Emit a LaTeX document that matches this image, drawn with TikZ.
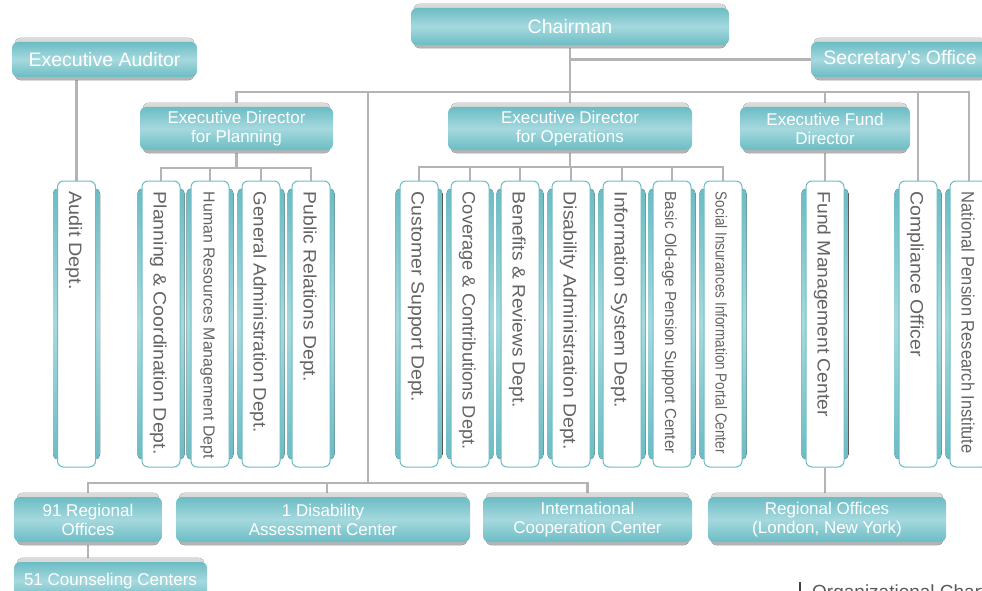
\documentclass[tikz,border=0pt]{standalone}
\usepackage{fontspec}
\usepackage{graphicx}
\setmainfont{Liberation Sans}
\usetikzlibrary{backgrounds}

\definecolor{tealD}{RGB}{108,188,196}
\definecolor{tealL}{RGB}{165,217,222}
\definecolor{linegray}{RGB}{180,180,180}
\definecolor{txtgray}{RGB}{100,100,100}

% stretch or squeeze a text horizontally to a given length (in pt)
\newlength\fitlen
\newcommand\fitw[2]{\settowidth\fitlen{#2}%
  \edef\fitfac{\fpeval{(#1)/(\the\fitlen)}}%
  \scalebox{\fitfac}[1]{#2}}

% grey plate behind a teal header box
\newcommand\boxshadow[1]{%
  \fill[rounded corners=6pt, top color=black!14, bottom color=black!30]
    ([xshift=3pt,yshift=4pt]#1.north west) rectangle ([xshift=-3pt,yshift=-3pt]#1.south east);}
% teal side ribbon behind a department column
\newcommand\boxband[1]{%
  \fill[rounded corners=5pt, top color=tealD, bottom color=tealD, middle color=tealL]
    ([xshift=-4pt,yshift=-8pt]#1.north west) rectangle ([xshift=4pt,yshift=8pt]#1.south east);}

\tikzset{
  hdr/.style={rounded corners=6pt, top color=tealD, bottom color=tealD, middle color=tealL,
    text=white, align=center, inner sep=0pt, font=\fontsize{17}{19}\selectfont},
  bighdr/.style={hdr, font=\fontsize{19.5}{21}\selectfont},
  vbox/.style={draw=tealD, line width=1pt, fill=white, rounded corners=6pt,
    minimum width=38pt, minimum height=286pt, inner sep=0pt},
  vtxt/.style={rotate=-90, anchor=base west, inner sep=0pt, text=txtgray,
    font=\fontsize{18}{18}\selectfont},
  ctxt/.style={vtxt, font=\fontsize{16}{16}\selectfont},
  conn/.style={draw=linegray, line width=2.2pt},
}

\begin{document}
\begin{tikzpicture}[x=1pt,y=-1pt]
\useasboundingbox (0,0) rectangle (982,591);
\clip (0,0) rectangle (982,591);

% executive level
\node[bighdr, minimum width=318pt, minimum height=37pt] (chair) at (570,26.5) {Chairman};
\node[bighdr, minimum width=185pt, minimum height=35pt] (aud) at (104.5,59.5) {Executive Auditor};
\node[bighdr, minimum width=178pt, minimum height=35pt] (sec) at (900,59.5) {Secretary’s Office};
\node[hdr, minimum width=193pt, minimum height=43pt] (plan) at (236.5,128.5) {Executive Director\\for Planning};
\node[hdr, minimum width=244pt, minimum height=43pt] (ops) at (570,128.5) {Executive Director\\for Operations};
\node[hdr, minimum width=170pt, minimum height=43pt] (fund) at (825,128.5) {Executive Fund\\Director};

% department columns
\foreach \n/\x in {audit/76.5, pc/161, hr/210, ga/261, pr/311, cs/419, cov/470, ben/520,
    dad/571, info/622, bop/672, sip/723, fmc/825, comp/918, npri/969}
  \node[vbox] (\n) at (\x,324) {};

\node[vtxt] (auditT) at ([xshift=-7.5pt,yshift=-11pt]audit.north) {\fitw{98}{Audit Dept.}};
\node[vtxt] (pcT) at ([xshift=-7.5pt,yshift=-11pt]pc.north) {\fitw{263}{Planning \& Coordination Dept.}};
\node[ctxt] (hrT) at ([xshift=-6.5pt,yshift=-11pt]hr.north) {\fitw{267}{Human Resources Management Dept}};
\node[vtxt] (gaT) at ([xshift=-7.5pt,yshift=-11pt]ga.north) {\fitw{241}{General Administration Dept.}};
\node[vtxt] (prT) at ([xshift=-7.5pt,yshift=-11pt]pr.north) {\fitw{190}{Public Relations Dept.}};
\node[vtxt] (csT) at ([xshift=-7.5pt,yshift=-11pt]cs.north) {\fitw{210}{Customer Support Dept.}};
\node[vtxt] (covT) at ([xshift=-7.5pt,yshift=-11pt]cov.north) {\fitw{258}{Coverage \& Contributions Dept.}};
\node[vtxt] (benT) at ([xshift=-7.5pt,yshift=-11pt]ben.north) {\fitw{216}{Benefits \& Reviews Dept.}};
\node[vtxt] (dadT) at ([xshift=-7.5pt,yshift=-11pt]dad.north) {\fitw{258}{Disability Administration Dept.}};
\node[vtxt] (infoT) at ([xshift=-7.5pt,yshift=-11pt]info.north) {\fitw{216}{Information System Dept.}};
\node[ctxt] (bopT) at ([xshift=-7pt,yshift=-11pt]bop.north) {\fitw{262}{Basic Old-age Pension Support Center}};
\node[ctxt] (sipT) at ([xshift=-7.5pt,yshift=-11pt]sip.north) {\fitw{262}{Social Insurances Information Portal Center}};
\node[vtxt] (fmcT) at ([xshift=-7.5pt,yshift=-11pt]fmc.north) {\fitw{225}{Fund Management Center}};
\node[vtxt] (compT) at ([xshift=-7.5pt,yshift=-11pt]comp.north) {\fitw{165}{Compliance Officer}};
\node[vtxt] (npriT) at ([xshift=-7.5pt,yshift=-11pt]npri.north) {\fitw{262}{National Pension Research Institute}};

% field organisation
\node[hdr, minimum width=148pt, minimum height=45pt] (reg) at (88,519.5) {91 Regional\\Offices};
\node[hdr, minimum width=294pt, minimum height=45pt] (dac) at (323,519.5) {1 Disability\\Assessment Center};
\node[hdr, minimum width=209pt, minimum height=45pt] (icc) at (587.5,519.5) {International\\Cooperation Center};
\node[hdr, minimum width=238pt, minimum height=45pt] (lon) at (827,519.5) {Regional Offices\\(London, New York)};
\node[hdr, minimum width=193pt, minimum height=38pt] (cns) at (110.5,581) {51 Counseling Centers};

% caption
\node[anchor=base west, inner sep=0pt, text=black!65, font=\fontsize{19}{19}\selectfont]
  (cap) at (812,598) {Organizational Chart};
\draw[line width=2pt, black!75] ([xshift=-12pt,yshift=16pt]cap.base west) -- ([xshift=-12pt,yshift=7pt]cap.base west);

% bus lines
\coordinate (top) at (570,92);
\coordinate (spine) at (368,92);
\coordinate (low) at (368,483);
\coordinate (pbus) at (236.5,168);
\coordinate (obus) at (570,167);

\begin{scope}[on background layer]
  \draw[conn] (chair.south) -- (ops.north);
  \draw[conn] (sec.west) -- (sec.west -| chair.south);
  \draw[conn] (plan.north) |- (npri.north |- top) -- (npri.north);
  \draw[conn] (fund.north) -- (fund.north |- top);
  \draw[conn] (comp.north) -- (comp.north |- top);
  \draw[conn] (spine) -- (low);
  \draw[conn] (reg.north) |- (icc.north |- low) -- (icc.north);
  \draw[conn] ([xshift=4pt]dac.north) -- ([xshift=4pt]dac.north |- low);
  \draw[conn] (aud.south -| audit.north) -- (audit.north);
  \draw[conn] (plan.south) -- (pbus);
  \draw[conn] (pc.north) |- (pr.north |- pbus) -- (pr.north);
  \foreach \n in {hr,ga} \draw[conn] (\n.north) -- (\n.north |- pbus);
  \draw[conn] (ops.south) -- (obus);
  \draw[conn] (cs.north) |- (sip.north |- obus) -- (sip.north);
  \foreach \n in {cov,ben,dad,info,bop} \draw[conn] (\n.north) -- (\n.north |- obus);
  \draw[conn] (fund.south -| fmc.north) -- (fmc.north);
  \draw[conn] (fmc.south) -- (fmc.south |- lon.north);
  \draw[conn] (reg.south) -- (reg.south |- cns.north);
  \foreach \n in {chair,aud,sec,plan,ops,fund,reg,dac,icc,lon,cns} \boxshadow{\n};
  \foreach \n in {audit,pc,hr,ga,pr,cs,cov,ben,dad,info,bop,sip,fmc,comp,npri} \boxband{\n};
\end{scope}
\end{tikzpicture}
\end{document}
